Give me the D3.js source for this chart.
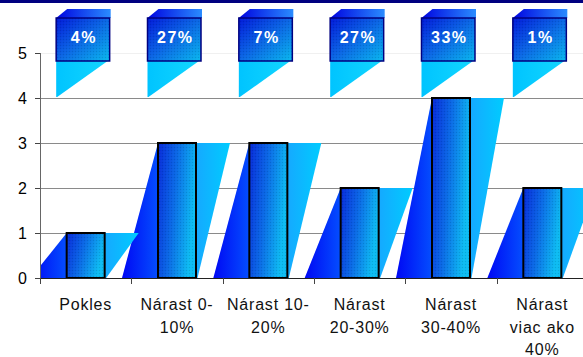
<!DOCTYPE html>
<html>
<head>
<meta charset="utf-8">
<script src="https://cdn.jsdelivr.net/npm/d3@7"></script>
<style>
body { margin:0; background:#fff; }
svg { display:block; }
text { font-family: "Liberation Sans", Arial, sans-serif; }
</style>
</head>
<body>
<div id="chart"></div>
<script>
// Data

var categories = ["Pokles","Nárast 0-10%","Nárast 10-20%","Nárast 20-30%","Nárast 30-40%","Nárast viac ako 40%"];
var labelLines = [["Pokles"],["Nárast 0-","10%"],["Nárast 10-","20%"],["Nárast","20-30%"],["Nárast","30-40%"],["Nárast","viac ako","40%"]];
var values = [1,3,3,2,4,2];
var shares = [4,27,7,27,33,1];
var yTicks = [0,1,2,3,4,5];

var W = 583, H = 357;
var left = 40, bottom = 278, top5 = 53;

var svg = d3.select("#chart").append("svg").attr("width",W).attr("height",H);

var x = d3.scaleBand().domain(categories).range([left,588]);
var y = d3.scaleLinear().domain([0,5]).range([bottom,top5]);

var defs = svg.append("defs");

function grad(id,x1,y1,x2,y2,stops){
	var g = defs.append("linearGradient").attr("id",id)
		.attr("x1",x1).attr("y1",y1).attr("x2",x2).attr("y2",y2);
	stops.forEach(function(s){ g.append("stop").attr("offset",s[0]).attr("stop-color",s[1]); });
}
grad("gBar","0","0","1","0.3",[["0","#0628d8"],["0.5","#0a6ae6"],["1","#0cbcf2"]]);
grad("gBox","0","0","1","1",[["0","#0018d8"],["0.5","#0a66e4"],["1","#08b8ee"]]);
grad("gDark","0","0","1","0",[["0","#0008f4"],["1","#0450ff"]]);
grad("gLight","0","0","1","0",[["0","#16a8ff"],["1","#00ccff"]]);
grad("gCap","0","0","1","0",[["0","#0004e0"],["1","#2a8cff"]]);
grad("gUnder","0","0","1","0",[["0","#00c4ff"],["1","#12d6ff"]]);

var pat = defs.append("pattern").attr("id","dots").attr("width",3).attr("height",3).attr("patternUnits","userSpaceOnUse");
pat.append("rect").attr("width",1).attr("height",1).attr("fill","#000").attr("opacity",0.11);
pat.append("rect").attr("x",1.5).attr("y",1.5).attr("width",1).attr("height",1).attr("fill","#fff").attr("opacity",0.08);

defs.append("clipPath").attr("id","plotclip").append("rect")
	.attr("x",left).attr("y",0).attr("width",W-left).attr("height",bottom+1);

// top band
svg.append("rect").attr("x",0).attr("y",0).attr("width",W).attr("height",3).attr("fill","#000080");

// gridlines
svg.append("g").selectAll("line").data(yTicks.filter(function(d){return d>0;})).enter().append("line")
	.attr("x1",left-5).attr("x2",W)
	.attr("y1",function(d){return Math.round(y(d))+0.5;}).attr("y2",function(d){return Math.round(y(d))+0.5;})
	.attr("stroke",function(d){return d==5 ? "#f0f0f0" : "#8a8a8a";}).attr("stroke-width",1);

var bw = 38, skew = 36, wLight = 34;
var plot = svg.append("g").attr("clip-path","url(#plotclip)");

function barL(d){ return x(d.c)+x.bandwidth()/2-bw/2; }

var data = categories.map(function(c,i){ return {c:c, v:values[i], s:shares[i], lines:labelLines[i]}; });

// left dark faces
plot.selectAll(".dark").data(data).enter().append("path").attr("class","dark")
	.attr("d",function(d){
		var l = barL(d), t = y(d.v);
		return "M"+(l-skew)+","+bottom+"L"+l+","+t+"L"+(l+1)+","+bottom+"Z";
	}).attr("fill","url(#gDark)");

// right light faces
plot.selectAll(".light").data(data).enter().append("path").attr("class","light")
	.attr("d",function(d){
		var r = barL(d)+bw, t = y(d.v);
		return "M"+(r-1)+","+t+"L"+(r+wLight)+","+t+"L"+(r+1.5)+","+bottom+"L"+(r-1)+","+bottom+"Z";
	}).attr("fill","url(#gLight)");

// bars
var bars = plot.selectAll(".bar").data(data).enter().append("g").attr("class","bar");
bars.append("rect")
	.attr("x",function(d){return barL(d);}).attr("y",function(d){return y(d.v);})
	.attr("width",bw).attr("height",function(d){return bottom-y(d.v);})
	.attr("fill","url(#gBar)");
bars.append("rect")
	.attr("x",function(d){return barL(d);}).attr("y",function(d){return y(d.v);})
	.attr("width",bw).attr("height",function(d){return bottom-y(d.v);})
	.attr("fill","url(#dots)").attr("stroke","#000").attr("stroke-width",2);

// share boxes on top
var bx = svg.append("g").selectAll("g").data(data).enter().append("g");
var boxL = function(d){ return barL(d)-10.5; }, boxW = 53.5, boxT = y(5)-35, boxB = y(5)+8;
bx.append("path").attr("d",function(d){
		var l = boxL(d);
		return "M"+l+","+boxB+"L"+(l+boxW-2)+","+boxB+"L"+(l+1)+","+(y(4)-1)+"L"+l+","+(y(4)-1)+"Z";
	}).attr("fill","url(#gUnder)");
bx.append("path").attr("d",function(d){
		var l = boxL(d);
		return "M"+l+","+boxT+"L"+(l+11)+","+(boxT-9)+"L"+(l+boxW+1)+","+(boxT-9)+"L"+(l+boxW+1)+","+boxT+"Z";
	}).attr("fill","url(#gCap)");
bx.append("rect").attr("x",boxL).attr("y",boxT).attr("width",boxW).attr("height",boxB-boxT)
	.attr("fill","url(#gBox)");
bx.append("rect").attr("x",boxL).attr("y",boxT).attr("width",boxW).attr("height",boxB-boxT)
	.attr("fill","url(#dots)").attr("stroke","#000080").attr("stroke-width",1.5);
bx.append("text").attr("x",function(d){return boxL(d)+boxW/2+1;}).attr("y",boxT+25)
	.attr("text-anchor","middle").attr("fill","#fff").attr("font-weight","bold")
	.attr("font-size",16).attr("letter-spacing",1.5)
	.text(function(d){return d.s+"%";});

// y axis
svg.append("line").attr("x1",left+0.5).attr("x2",left+0.5).attr("y1",top5).attr("y2",bottom+6)
	.attr("stroke","#666").attr("stroke-width",1);
svg.append("g").selectAll("line").data(yTicks).enter().append("line")
	.attr("x1",left-5).attr("x2",left)
	.attr("y1",function(d){return Math.round(y(d))+0.5;}).attr("y2",function(d){return Math.round(y(d))+0.5;})
	.attr("stroke","#444");
svg.append("g").selectAll("text").data(yTicks).enter().append("text")
	.attr("x",27).attr("y",function(d){return y(d)+6;})
	.attr("text-anchor","end").attr("font-size",16).attr("fill","#000")
	.text(function(d){return d;});

// x axis
svg.append("line").attr("x1",left).attr("x2",W).attr("y1",bottom+0.5).attr("y2",bottom+0.5)
	.attr("stroke","#222").attr("stroke-width",1.2);
svg.append("g").selectAll("line").data(categories).enter().append("line")
	.attr("x1",function(d){return Math.round(x(d))+0.5;}).attr("x2",function(d){return Math.round(x(d))+0.5;})
	.attr("y1",bottom).attr("y2",bottom+6).attr("stroke","#444");

var lab = svg.append("g").selectAll("text").data(data).enter().append("text")
	.attr("text-anchor","middle").attr("font-size",16).attr("fill","#111").attr("letter-spacing",0.8);
lab.selectAll("tspan").data(function(d){return d.lines.map(function(t){return {t:t,c:d.c};});}).enter().append("tspan")
	.attr("x",function(d){return x(d.c)+x.bandwidth()/2;})
	.attr("y",function(d,i){return 310+i*22.5;})
	.text(function(d){return d.t;});
</script>
</body>
</html>
